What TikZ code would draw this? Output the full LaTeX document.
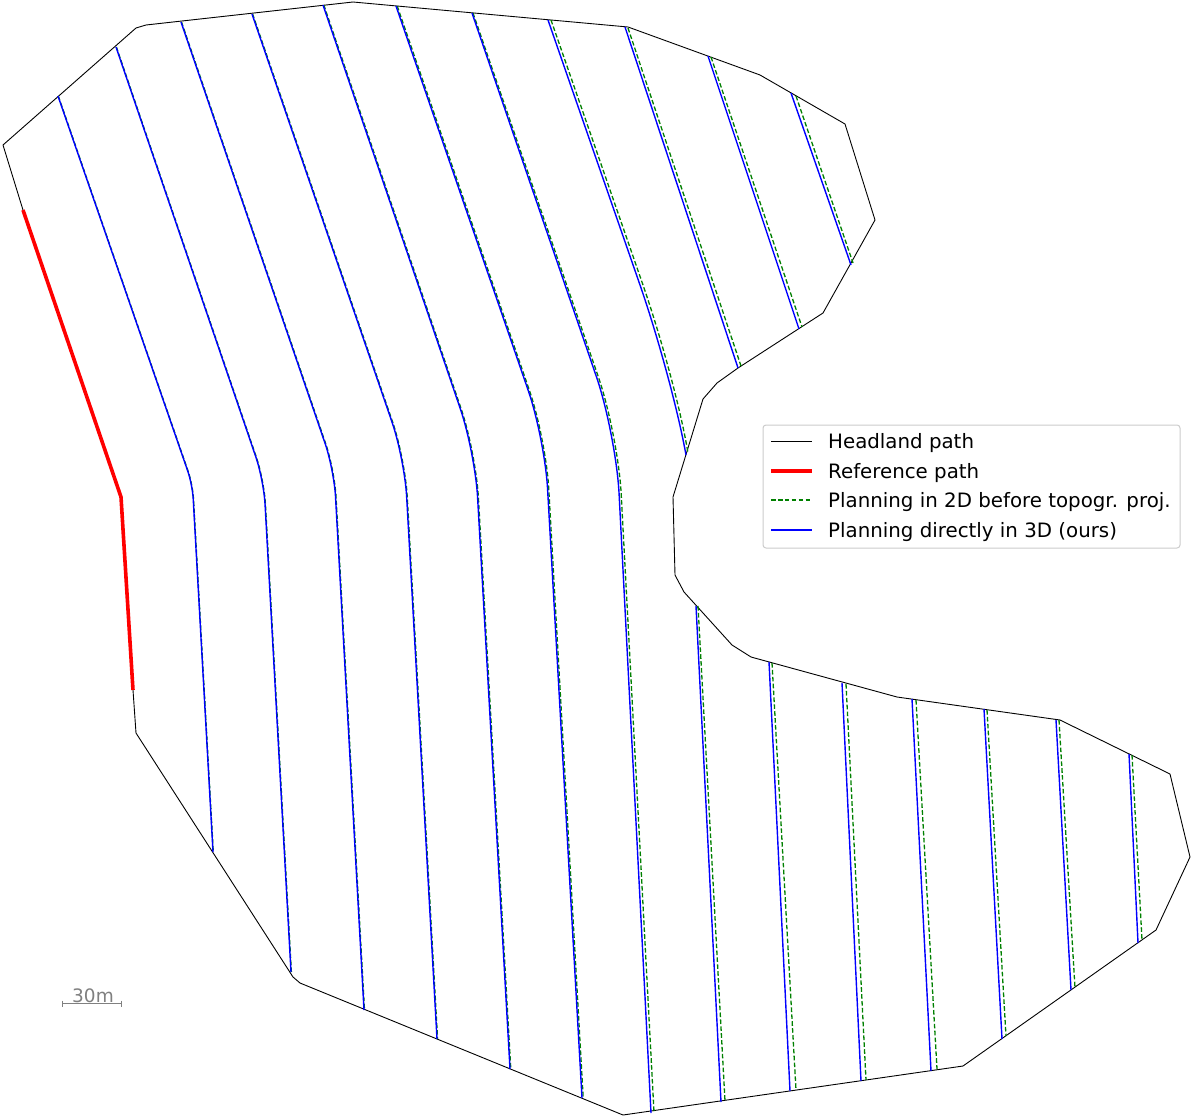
\documentclass[tikz,border=0pt]{standalone}
\usepackage{fontspec}
\setmainfont{DejaVu Sans}
\definecolor{greentwod}{RGB}{0,128,0}
\definecolor{legedge}{RGB}{204,204,204}
\definecolor{scalegray}{RGB}{128,128,128}
\begin{document}
\begin{tikzpicture}[x=1pt,y=-1pt,
  headland/.style={draw=black,line width=0.9pt,line join=round},
  refpath/.style={draw=red,line width=3.6pt,line join=round},
  plantwod/.style={draw=greentwod,line width=1.3pt,dash pattern=on 4.6pt off 2.3pt},
  planthreed/.style={draw=blue,line width=1.4pt},
  legtext/.style={anchor=base west,inner sep=0pt,font=\fontsize{19.8}{24}\selectfont},
]
\fill[white] (0,0) rectangle (1193,1119);
\useasboundingbox (0,0) rectangle (1193,1119);

% headland path
\draw[headland] (3,145) -- (136,28) -- (146,25) -- (353,2) -- (628,27) -- (760,75)
  -- (845,124) -- (875,220) -- (823,313) -- (738,368) -- (717,383) -- (703,399)
  -- (673,497) -- (675,575) -- (684,592) -- (732,645) -- (751,657) -- (897,697)
  -- (1060,720) -- (1170,774) -- (1190,857) -- (1156,930) -- (963,1066)
  -- (623,1115) -- (300,983) -- (293,977) -- (136,733) -- (133,690)
  -- (121,497) -- (23,210) -- cycle;

% planning in 2D (green dashed)
\draw[plantwod,xshift=0.3pt,rounded corners=14pt] (58,96) -- (192.4,484.5) -- (213,852);
\draw[plantwod,xshift=0.4pt,rounded corners=24pt] (116,47) -- (263.7,480) -- (291,972);
\draw[plantwod,xshift=0.5pt,rounded corners=27pt] (181,22) -- (334,469.5) -- (364,1010);
\draw[plantwod,xshift=0.6pt,rounded corners=38pt] (252,14) -- (404.5,458.5) -- (437,1039);
\draw[plantwod,xshift=0.8pt,rounded corners=45pt] (323,5) -- (475,452) -- (510,1069);
\draw[plantwod,xshift=1.2pt,rounded corners=50pt] (396,6) -- (544.7,438.4) -- (582,1098);
\draw[plantwod,rounded corners=60pt] (473,13) -- (618,434) -- (654,1112);
\draw[plantwod] (551,20) -- (643,285) .. controls (659,331) and (680,405) .. (688,453);
\draw[plantwod] (628,28) -- (741,366);
\draw[plantwod] (711,57) -- (802,327);
\draw[plantwod] (796,96) -- (853,263);
\draw[plantwod] (698,606) -- (725,1101);
\draw[plantwod] (772,663) -- (796,1090);
\draw[plantwod] (846,684) -- (866,1080);
\draw[plantwod] (916,700) -- (937,1069);
\draw[plantwod] (987,710) -- (1006,1036);
\draw[plantwod] (1059,720) -- (1075,988);
\draw[plantwod] (1132,755) -- (1142,940);

% planning directly in 3D (blue)
\draw[planthreed,rounded corners=14pt] (58,96) -- (192.4,484.5) -- (213,852);
\draw[planthreed,rounded corners=24pt] (116,47) -- (263.7,480) -- (291,972);
\draw[planthreed,rounded corners=27pt] (181,22) -- (334,469.5) -- (364,1010);
\draw[planthreed,rounded corners=38pt] (252,14) -- (404.5,458.5) -- (437,1039);
\draw[planthreed,rounded corners=45pt] (323,5) -- (475,452) -- (510,1069);
\draw[planthreed,rounded corners=50pt] (396,6) -- (544.7,438.4) -- (582,1098);
\draw[planthreed,rounded corners=60pt] (472,13) -- (616,434) -- (651,1113);
\draw[planthreed] (548,20) -- (640,285) .. controls (656,331) and (677,405) .. (686,455);
\draw[planthreed] (625,27) -- (738,368);
\draw[planthreed] (708,56) -- (799,329);
\draw[planthreed] (791,93) -- (851,265);
\draw[planthreed] (696,606) -- (721,1102);
\draw[planthreed] (769,662) -- (790,1091);
\draw[planthreed] (842,683) -- (861,1081);
\draw[planthreed] (912,699) -- (931,1071);
\draw[planthreed] (984,709) -- (1002,1039);
\draw[planthreed] (1056,720) -- (1071,990);
\draw[planthreed] (1129,754) -- (1138,943);

% reference path
\draw[refpath] (23,210) -- (121,497) -- (133,690);

% scale bar
\draw[scalegray,line width=1pt] (62,1003.3) -- (121,1003.3)
  (62,1000.5) -- (62,1006.5) (121,1000.5) -- (121,1006.5);
\node[anchor=base,inner sep=0pt,text=scalegray,font=\fontsize{18.5}{22}\selectfont] (scaletxt) at (93,1002) {30m};

% legend
\draw[legedge,line width=1pt,fill=white,fill opacity=0.8,rounded corners=3pt] (763,425) rectangle (1180,548);
\draw[black,line width=0.9pt] (771,441) -- (812,441);
\draw[red,line width=3.6pt] (771,471) -- (812,471);
\draw[plantwod] (771,500) -- (812,500);
\draw[planthreed] (771,530) -- (812,530);
\node[legtext] (lghead) at (828,448.3) {Headland path};
\node[legtext] (lgref) at (828,478) {Reference path};
\node[legtext] (lgtwod) at (828,507.5) {Planning in 2D before topogr. proj.};
\node[legtext] (lgthreed) at (828,537) {Planning directly in 3D (ours)};
\end{tikzpicture}
\end{document}
